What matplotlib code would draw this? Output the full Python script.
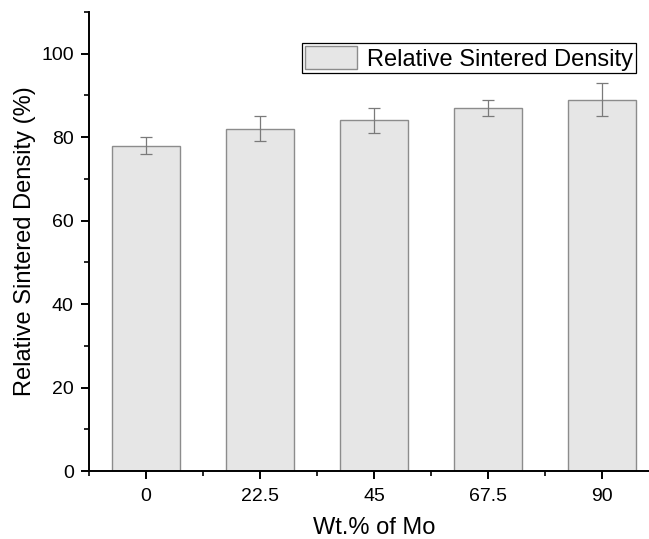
import matplotlib
matplotlib.use('Agg')
import matplotlib.pyplot as plt
from matplotlib.ticker import MultipleLocator, AutoMinorLocator

# data
mo_wt = ['0', '22.5', '45', '67.5', '90']
density = [78, 82, 84, 87, 89]
density_err = [2, 3, 3, 2, 4]

plt.rcParams['font.family'] = ['Liberation Sans', 'DejaVu Sans']

fig = plt.figure(figsize=(6.49, 5.39), dpi=100)
# axes run past the right edge, the reference is cropped there
ax = fig.add_axes([89 / 649, 1 - 471 / 539, 570 / 649, 459 / 539])

x = range(len(mo_wt))
ax.bar(x, density, width=0.6, color='#e6e6e6', edgecolor='#8c8c8c',
       linewidth=1.0, label='Relative Sintered Density', zorder=2)
ax.errorbar(x, density, yerr=density_err, fmt='none', ecolor='#7a7a7a',
            elinewidth=0.9, capsize=4, capthick=0.9, zorder=3)

ax.set_xlim(-0.5, 4.5)
ax.set_ylim(0, 110)
ax.set_xticks(list(x))
ax.set_xticklabels(mo_wt)
ax.xaxis.set_minor_locator(AutoMinorLocator(2))
ax.yaxis.set_major_locator(MultipleLocator(20))
ax.yaxis.set_minor_locator(MultipleLocator(10))

for side in ['top', 'right']:
    ax.spines[side].set_visible(False)
for side in ['left', 'bottom']:
    ax.spines[side].set_linewidth(1.4)

ax.tick_params(which='major', direction='out', length=6, width=1.4,
               labelsize=14)
ax.tick_params(axis='x', which='major', pad=6)
ax.tick_params(axis='y', which='major', pad=5)
ax.tick_params(which='minor', direction='out', length=3.5, width=1.2)

ax.set_xlabel('Wt.% of Mo', fontsize=17, labelpad=9)
ax.set_ylabel('Relative Sintered Density (%)', fontsize=17, labelpad=3.5)

leg = ax.legend(loc='upper right', bbox_to_anchor=(636 / 649, 1 - 43 / 539),
                bbox_transform=fig.transFigure, borderaxespad=0,
                fontsize=17, frameon=True, fancybox=False, framealpha=1,
                edgecolor='black', handlelength=2.2, handleheight=1.15,
                borderpad=0.12, handletextpad=0.45)
leg.get_frame().set_linewidth(0.9)

fig.savefig('out.png', dpi=100)
